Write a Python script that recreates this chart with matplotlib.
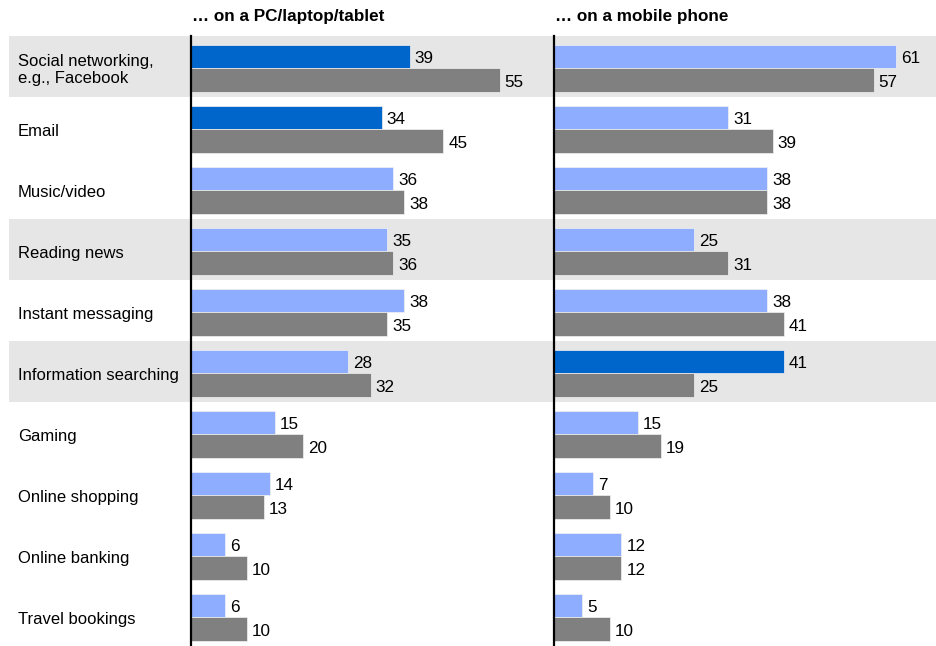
import numpy as np
import matplotlib
matplotlib.use("Agg")
import matplotlib.pyplot as plt
from matplotlib.transforms import blended_transform_factory

plt.rcParams['font.family'] = ['Liberation Sans', 'DejaVu Sans']
plt.rcParams['font.size'] = 12

# Data
categories = ["Social networking,\ne.g., Facebook", "Email", "Music/video", "Reading news",
              "Instant messaging", "Information searching", "Gaming", "Online shopping",
              "Online banking", "Travel bookings"]
pc_top = [39, 34, 36, 35, 38, 28, 15, 14, 6, 6]
pc_grey = [55, 45, 38, 36, 35, 32, 20, 13, 10, 10]
mob_top = [61, 31, 38, 25, 38, 41, 15, 7, 12, 5]
mob_grey = [57, 39, 38, 31, 41, 25, 19, 10, 12, 10]
pc_highlight = [0, 1]
mob_highlight = [5]
shaded_rows = [0, 3, 5]
titles = ["\u2026 on a PC/laptop/tablet", "\u2026 on a mobile phone"]

LIGHT = '#8fadff'
DARK = '#0066cc'
GREY = '#808080'
BAND = '#e6e6e6'

W, H = 936, 646
fig = plt.figure(figsize=(W / 100, H / 100), dpi=100)

top_px = 36
ax_h = (H - top_px) / H
n = len(categories)
y = np.arange(n)

# background band axes
ax_bg = fig.add_axes([9 / W, 0, 1 - 9 / W, ax_h])
ax_bg.set_ylim(n - 0.5, -0.5)
ax_bg.set_xlim(0, 1)
for r in shaded_rows:
    ax_bg.axhspan(r - 0.5, r + 0.5, color=BAND, lw=0)
ax_bg.axis('off')

scale = 5.61  # px per unit
panels = [
    (191, 540, pc_top, pc_grey, pc_highlight, titles[0]),
    (554, 936, mob_top, mob_grey, mob_highlight, titles[1]),
]
axes = []
for left, right, top_vals, grey_vals, hl, title in panels:
    ax = fig.add_axes([left / W, 0, (right - left) / W, ax_h])
    ax.patch.set_alpha(0)
    ax.set_xlim(0, (right - left) / scale)
    ax.set_ylim(n - 0.5, -0.5)
    cols = [DARK if i in hl else LIGHT for i in range(n)]
    b1 = ax.barh(y - 0.16, top_vals, height=0.38, color=cols, edgecolor='#f2f2f2', lw=0.5)
    b2 = ax.barh(y + 0.22, grey_vals, height=0.38, color=GREY, edgecolor='#f2f2f2', lw=0.5)
    for bars, vals in ((b1, top_vals), (b2, grey_vals)):
        for rect, v in zip(bars, vals):
            ax.annotate(str(v), (v, rect.get_y() + rect.get_height() / 2),
                        xytext=(3.6, -1.5), textcoords='offset points',
                        ha='left', va='center', fontsize=12.3, color='black')
    for s in ['top', 'right', 'bottom']:
        ax.spines[s].set_visible(False)
    ax.spines['left'].set_linewidth(1.6)
    ax.spines['left'].set_color('black')
    ax.spines['left'].set_zorder(5)
    ax.set_xticks([])
    ax.set_yticks([])
    fig.text((left + 1) / W, 1 - 17 / H, title, fontweight='bold', fontsize=12.3,
             ha='left', va='center')
    axes.append(ax)

trans = blended_transform_factory(fig.transFigure, axes[0].transData)
for i, c in enumerate(categories):
    axes[0].text(18 / W, i + 0.06, c, transform=trans, ha='left', va='center',
                 fontsize=12, color='black', linespacing=1.2)

fig.savefig('out.png', dpi=100)
